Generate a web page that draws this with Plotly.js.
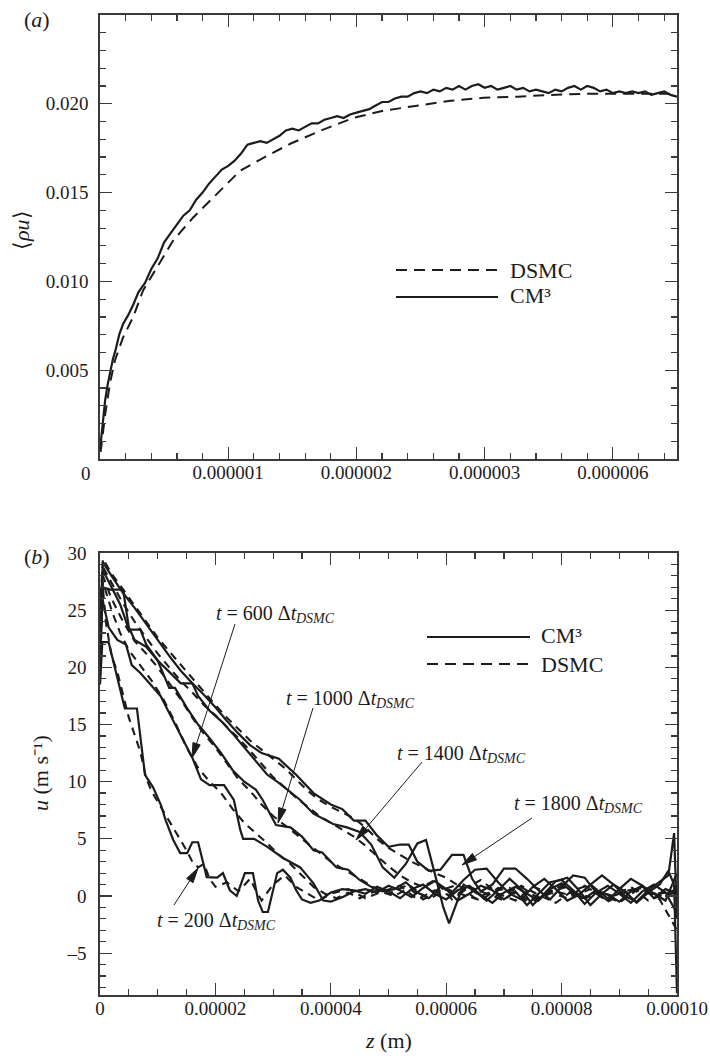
<!DOCTYPE html>
<html><head><meta charset="utf-8">
<script src="https://cdn.plot.ly/plotly-3.0.1.min.js"></script>
<style>html,body{margin:0;padding:0;background:#fff}#chart{width:710px;height:1061px}</style>
</head><body><div id="chart"></div>
<script>
// ---------- Panel (a): <rho u> (x in units of the major tick spacing) ----------
const aTickVals = [1, 2, 3, 4];
const aTickText = ['0.000001', '0.000002', '0.000003', '0.000006'];
const aYTickVals = [0.005, 0.010, 0.015, 0.020];
const aYTickText = ['0.005', '0.010', '0.015', '0.020'];

const aDsmcX = [0.005, 0.04, 0.078, 0.117, 0.18, 0.258, 0.336, 0.445, 0.57, 0.727, 0.914, 1.094, 1.305, 1.484, 1.719, 1.977, 2.21, 2.477, 2.734, 2.992, 3.258, 3.516, 3.773, 4.039, 4.3, 4.5];
const aDsmcY = [0.0004, 0.0025, 0.00427, 0.00556, 0.00685, 0.00798, 0.00949, 0.01079, 0.0123, 0.0136, 0.01494, 0.01624, 0.01708, 0.01775, 0.01848, 0.01921, 0.01961, 0.01989, 0.02017, 0.02034, 0.0204, 0.0205, 0.02056, 0.02056, 0.02056, 0.02056];

const aCmX = [0, 0.02, 0.04, 0.06, 0.08, 0.10, 0.12, 0.15, 0.18, 0.22, 0.26, 0.30, 0.35, 0.40, 0.45, 0.50, 0.55, 0.60, 0.65, 0.70, 0.75, 0.80, 0.85, 0.90, 0.95, 1.00, 1.05, 1.10, 1.15, 1.20, 1.25, 1.30, 1.35, 1.40, 1.45, 1.50, 1.55, 1.60, 1.65, 1.70, 1.75, 1.80, 1.85, 1.90, 1.95, 2.00, 2.05, 2.10, 2.15, 2.20, 2.25, 2.30, 2.35, 2.40, 2.45, 2.50, 2.55, 2.60, 2.65, 2.70, 2.75, 2.80, 2.85, 2.90, 2.95, 3.00, 3.05, 3.10, 3.15, 3.20, 3.25, 3.30, 3.35, 3.40, 3.45, 3.50, 3.55, 3.60, 3.65, 3.70, 3.75, 3.80, 3.85, 3.90, 3.95, 4.00, 4.05, 4.10, 4.15, 4.20, 4.25, 4.30, 4.35, 4.40, 4.45, 4.50];
const aCmY = [0.0005, 0.0018, 0.0033, 0.0042, 0.0050, 0.0056, 0.0061, 0.0070, 0.0076, 0.0081, 0.0087, 0.0094, 0.0099, 0.0107, 0.0113, 0.0122, 0.0127, 0.0132, 0.0137, 0.0140, 0.0146, 0.0150, 0.0155, 0.0159, 0.0163, 0.0165, 0.0168, 0.0172, 0.0177, 0.0178, 0.0179, 0.0178, 0.0180, 0.0182, 0.0185, 0.0186, 0.0185, 0.0187, 0.0189, 0.0189, 0.0191, 0.0192, 0.0193, 0.0192, 0.0194, 0.0195, 0.0196, 0.0197, 0.0199, 0.0201, 0.0201, 0.0203, 0.0204, 0.0204, 0.0206, 0.0207, 0.0206, 0.0208, 0.0207, 0.0209, 0.0208, 0.0210, 0.0208, 0.0210, 0.0211, 0.0209, 0.0210, 0.0208, 0.0209, 0.0210, 0.0208, 0.0209, 0.0207, 0.0208, 0.0207, 0.0206, 0.0208, 0.0207, 0.0209, 0.0210, 0.0208, 0.0210, 0.0209, 0.0207, 0.0208, 0.0206, 0.0207, 0.0206, 0.0207, 0.0206, 0.0207, 0.0205, 0.0206, 0.0207, 0.0205, 0.0204];

// ---------- Panel (b): u(z), z in micrometres ----------
const bTickVals = [0, 20, 40, 60, 80, 100];
const bTickText = ['0', '0.00002', '0.00004', '0.00006', '0.00008', '0.00010'];
const bYTickVals = [-5, 0, 5, 10, 15, 20, 25, 30];
const bYTickText = ['\u20135', '0', '5', '10', '15', '20', '25', '30'];

// t = 200
const z200c = [0, 0.4, 1.5, 3, 4.3, 6.4, 7.8, 9.2, 10.6, 11.4, 12.7, 13.9, 15.1, 16.0, 17.0, 18.5, 20.3, 21.3, 22.5, 23.7, 25.1, 26.5, 27.4, 28.2, 29.1, 30.7, 31.7, 33, 34, 35, 36.5, 38, 40, 42, 44, 46, 48, 50, 52, 54, 56, 58, 60, 62, 64, 66, 68, 70, 72, 74, 76, 78, 80, 82, 84, 86, 88, 90, 92, 94, 96, 98, 99, 100];
const u200c = [18.5, 22.2, 22.2, 19.1, 16.4, 16.4, 10.6, 9.5, 7.9, 6.6, 4.9, 3.75, 3.75, 4.7, 4.7, 1.65, 1.6, 2.0, 0.5, 0, 2.0, 2.0, -0.4, -1.4, -1.4, 2.0, 2.3, 1.6, 0.5, -0.3, -0.6, -0.4, 0.3, 0.6, 0.5, 0.2, 0.8, 0.4, -0.2, 0.6, 1.0, 0.2, -0.3, 0.5, 0.9, 0.1, -0.6, 0.3, 0.8, 0.2, -0.4, 0.6, 1.1, 0.3, -0.2, 0.5, 0.1, -0.5, 0.4, 0.9, 0.2, -0.4, 0.8, 2.0];
const z200d = [0, 0.5, 1, 2, 3, 5, 7, 8, 9, 10.5, 12, 13.5, 15, 16, 17, 18, 19, 20, 22, 24, 26, 27, 28, 30, 32, 34, 36, 38, 40, 43, 46, 49, 52, 55, 58, 61, 64, 67, 70, 73, 76, 79, 82, 85, 88, 91, 94, 97, 100];
const u200d = [20, 27, 24, 21, 19.6, 15.6, 12.6, 10.3, 9.1, 7.8, 6.5, 5.2, 4.0, 3.0, 2.5, 2.8, 1.5, 0.8, 1.2, 0.4, 1.5, 0.5, -0.4, 1.0, 1.8, 0.8, 0.2, -0.4, 0.2, 0.6, -0.2, 0.4, 0.9, -0.3, 0.5, 0.0, 0.7, -0.4, 0.3, 0.8, -0.2, 0.4, 0.0, 0.6, -0.5, 0.3, 0.7, -0.3, -3.0];

// t = 600
const z600c = [0, 0.4, 1.5, 3, 4.5, 5.5, 7, 9, 10.5, 12, 14, 16, 17.5, 19, 21.5, 23.2, 24.3, 24.8, 26.7, 29, 31.8, 34.7, 37, 38.7, 40, 42, 44, 46, 48, 50, 52, 54, 56, 58, 60, 62, 64, 66, 68, 70, 72, 74, 76, 78, 80, 82, 84, 86, 88, 90, 92, 94, 96, 98, 100];
const u600c = [20, 26, 23.5, 22.4, 22.0, 20.2, 19.5, 18.3, 17.5, 16.0, 14.0, 12.1, 10.2, 9.7, 9.7, 8.4, 5.8, 5.0, 5.0, 4.3, 3.3, 2.5, 1.1, -0.4, -0.5, -0.1, 0.4, 0.6, 0.3, 0.9, 0.5, -0.1, 0.7, 1.3, 0.6, -0.4, 0.2, 0.9, 0.5, -0.3, 0.4, -0.8, 0.2, 1.2, 1.4, 0.5, -0.7, 0.3, 0.9, 0.2, -0.6, 0.4, 1.0, 0.3, -1.5];
const z600d = [0, 0.5, 2, 3.5, 5, 7, 9, 11, 13, 15, 17, 19, 21, 23, 25, 27, 29, 31, 33, 35, 37, 39, 41, 43, 45, 48, 51, 54, 57, 60, 63, 66, 69, 72, 75, 78, 81, 84, 87, 90, 93, 96, 100];
const u600d = [22, 27.5, 25, 23, 21.5, 20.2, 18.8, 17.2, 15.2, 13.0, 11.2, 10.0, 9.0, 7.6, 6.4, 5.5, 4.6, 3.6, 2.8, 1.8, 0.8, 0.2, -0.2, 0.3, -0.2, 0.5, 0.0, 0.8, -0.3, 0.6, 0.1, -0.4, 0.7, 0.2, -0.5, 0.4, 0.8, -0.2, 0.3, -0.6, 0.5, 0.1, 0.5];

// t = 1000
const z1000c = [0, 0.5, 1.7, 4, 5, 6, 8, 10, 12, 13, 15, 17, 19, 21, 23, 25, 27, 28.2, 30.5, 33, 35, 37, 38.5, 41, 43, 45, 47, 49, 51, 53, 55, 57, 59, 61, 63, 65, 67, 69, 71, 73, 75, 77, 79, 81, 83, 85, 87, 89, 91, 93, 95, 97, 98.5, 99.5, 100];
const u1000c = [21, 27, 26.8, 26.8, 23.5, 22.4, 21.8, 20.6, 18.2, 18.2, 16.5, 15.0, 13.8, 12.5, 11.0, 10.0, 9.3, 8.4, 6.2, 6.0, 5.2, 4.0, 3.8, 2.5, 2.3, 1.4, 0.8, 0.4, 0.6, 1.2, 0.3, -0.2, 0.8, 0.3, 1.4, 2.3, 2.4, 1.2, 0.2, -0.3, 0.8, 1.5, 0.6, -0.4, 0.1, 1.0, 1.8, 1.0, 0.0, -0.5, 0.5, 1.2, 1.8, 5.5, -2.0];
const z1000d = [0, 0.5, 2, 4, 6, 8, 10, 12, 14, 16, 18, 20, 22, 24, 26, 28, 30, 32, 34, 36, 38, 40, 42, 44, 46, 48, 50, 53, 56, 59, 62, 65, 68, 71, 74, 77, 80, 83, 86, 89, 92, 95, 98, 100];
const u1000d = [23, 28, 26, 24, 22.3, 21.2, 20, 18.6, 17.2, 15.6, 14.2, 13, 11.6, 10.2, 9.2, 8.0, 7.0, 6.2, 5.4, 4.6, 3.8, 3.0, 2.4, 1.8, 1.2, 0.6, 0.2, 0.9, -0.3, 0.5, 1.0, -0.2, 0.4, 0.7, -0.5, 0.2, 0.9, -0.3, 0.4, 0.0, 0.8, -0.4, 0.2, 0.6];

// t = 1400
const z1400c = [0, 0.5, 2, 3.5, 5, 7, 8, 10, 12, 14, 16, 17, 19, 21, 23, 25, 27, 29, 31, 34.7, 37, 40.4, 42.8, 45, 47, 49, 51, 53, 55, 56.5, 58, 59.5, 60.5, 61.5, 63, 65, 67, 69, 71, 73, 75, 77, 79, 81, 83, 85, 87, 89, 91, 93, 95, 97, 98.5, 99.5, 100];
const u1400c = [23, 28.5, 27, 25.5, 23.3, 23.3, 22, 20.6, 19.6, 18.6, 18.6, 17.5, 16.2, 15.3, 14.2, 13.0, 11.8, 10.6, 9.9, 8.4, 7.2, 6.3, 6.0, 5.6, 4.5, 2.5, 1.6, 2.8, 4.6, 4.9, 2.0, -1.0, -2.4, -1.0, 1.0, 0.4, -0.4, 0.5, 1.5, 0.6, -0.8, 0.2, 1.3, 1.6, 0.5, -0.8, 0.2, 1.0, 0.4, -0.6, 0.3, 1.0, 2.2, 1.0, -8.5];
const z1400d = [0, 0.5, 2, 4, 6, 8, 10, 12, 14, 16, 18, 20, 22, 24, 26, 28, 30, 32, 34, 36, 38, 40, 42, 44, 46, 48, 50, 52, 54, 56, 58, 61, 64, 67, 70, 73, 76, 79, 82, 85, 88, 91, 94, 97, 100];
const u1400d = [24, 28.8, 27.4, 25.6, 24, 22.6, 21.2, 20, 18.8, 17.8, 16.7, 15.8, 14.8, 13.8, 12.7, 11.5, 10.4, 9.5, 8.6, 7.8, 7.0, 6.4, 5.8, 5.2, 4.4, 3.5, 2.6, 1.8, 1.2, 0.8, 1.4, -0.3, 0.8, 0.2, -0.4, 0.9, 0.1, -0.6, 0.5, 1.0, -0.2, 0.4, 0.8, 0.0, 0.3];

// t = 1800
const z1800c = [0, 0.5, 2, 4, 6, 8, 10, 12, 14, 16, 18, 20, 22, 24, 26, 28, 31, 34, 37, 40, 42, 44, 46, 48, 50, 52, 53.5, 55, 57, 59, 61, 63, 64.5, 66, 68, 70, 72, 74, 76, 78, 80, 82, 84, 86, 88, 90, 92, 94, 96, 98, 100];
const u1800c = [24, 29.2, 28, 26.5, 25.2, 23.8, 22.3, 21.0, 19.7, 18.6, 17.6, 16.5, 15.3, 14.2, 13.2, 12.5, 12.0, 10.6, 9.0, 8.0, 7.6, 6.6, 6.6, 5.3, 4.3, 4.5, 4.5, 3.0, 2.2, 2.3, 3.6, 3.6, 1.5, 0.4, 1.0, 2.4, 2.4, 1.5, 0.5, -0.3, 0.8, 1.8, 1.6, 0.3, -0.4, 0.6, 1.5, 0.9, -0.2, 0.6, 0.2];
const z1800d = [0, 0.5, 2, 4, 6, 8, 10, 12, 14, 16, 18, 20, 22, 24, 26, 28, 30, 32, 34, 36, 38, 40, 42, 44, 46, 48, 50, 52, 54, 56, 58, 60, 63, 66, 69, 72, 75, 78, 81, 84, 87, 90, 93, 96, 100];
const u1800d = [25, 29.5, 28.2, 26.8, 25.4, 24, 22.6, 21.4, 20.2, 19, 17.8, 16.7, 15.6, 14.6, 13.6, 12.8, 12, 11.2, 10.2, 9.2, 8.4, 7.8, 7.3, 6.8, 6.0, 5.0, 4.2, 3.6, 3.0, 2.5, 2.0, 1.6, 0.6, 1.4, 0.2, -0.4, 0.8, 0.3, -0.2, 0.9, 0.1, -0.5, 0.6, 0.2, 0.4];

// label times for the arrows in panel (b)
const bLabelTimes = ['600', '1000', '1400', '1800', '200'];

// ---------- build ----------
const INK = '#1c1c1c';
const AX = '#3a3a3a';
const FONT = "'Liberation Serif', 'Times New Roman', serif";
const DASH = '11px,7px';
const DASHB = '8px,6px';
const W = 710, H = 1061, ML = 100, MR = 33, MT = 15, MB = 66;
const PW = W - ML - MR, PH = H - MT - MB;
const px = x => (x - ML) / PW;
const py = y => 1 - (y - MT) / PH;

function line(x, y, xa, ya, dash, w) {
  return {x: x, y: y, xaxis: xa, yaxis: ya, type: 'scatter', mode: 'lines', hoverinfo: 'skip',
          line: {color: INK, width: w, dash: dash, shape: 'linear'}, showlegend: false};
}
const traces = [
  line(aDsmcX, aDsmcY, 'x', 'y', DASH, 2),
  line(aCmX, aCmY, 'x', 'y', 'solid', 2.2),
  line(z200d, u200d, 'x2', 'y2', DASHB, 2.1),
  line(z600d, u600d, 'x2', 'y2', DASHB, 2.1),
  line(z1000d, u1000d, 'x2', 'y2', DASHB, 2.1),
  line(z1400d, u1400d, 'x2', 'y2', DASHB, 2.1),
  line(z1800d, u1800d, 'x2', 'y2', DASHB, 2.1),
  line(z200c, u200c, 'x2', 'y2', 'solid', 2.2),
  line(z600c, u600c, 'x2', 'y2', 'solid', 2.2),
  line(z1000c, u1000c, 'x2', 'y2', 'solid', 2.2),
  line(z1400c, u1400c, 'x2', 'y2', 'solid', 2.2),
  line(z1800c, u1800c, 'x2', 'y2', 'solid', 2.2)
];

const tickFont = {family: FONT, size: 19, color: INK};
function axisBase(extra) {
  return Object.assign({
    showline: true, linecolor: AX, linewidth: 1.6, mirror: 'ticks',
    ticks: 'inside', ticklen: 12, tickwidth: 1.2, tickcolor: AX,
    showgrid: false, zeroline: false, tickfont: tickFont, fixedrange: true
  }, extra);
}

const layout = {
  width: W, height: H,
  margin: {l: ML, r: MR, t: MT, b: MB},
  paper_bgcolor: '#fff', plot_bgcolor: '#fff',
  showlegend: false,
  font: {family: FONT, color: INK},
  xaxis: axisBase({domain: [0, 1], anchor: 'y', range: [0, 4.5], tickmode: 'array', tickvals: aTickVals, ticktext: aTickText,
    ticklabelstandoff: -4, minor: {dtick: 0.2, tick0: 0, ticks: 'inside', ticklen: 6, tickcolor: AX, tickwidth: 1.2}}),
  yaxis: axisBase({domain: [py(459), 1], anchor: 'x', range: [0, 0.025], tickmode: 'array', tickvals: aYTickVals, ticktext: aYTickText,
    ticklabelstandoff: 6, minor: {dtick: 0.001, tick0: 0, ticks: 'inside', ticklen: 6, tickcolor: AX, tickwidth: 1.2}}),
  xaxis2: axisBase({domain: [0, 1], anchor: 'y2', range: [0, 100], tickmode: 'array', tickvals: bTickVals, ticktext: bTickText,
    ticklabelstandoff: -4, minor: {dtick: 5, tick0: 0, ticks: 'inside', ticklen: 6, tickcolor: AX, tickwidth: 1.2}}),
  yaxis2: axisBase({domain: [0, py(553)], anchor: 'x2', range: [-8.66, 30], tickmode: 'array', tickvals: bYTickVals, ticktext: bYTickText,
    ticklabelstandoff: 8, minor: {dtick: 1, tick0: 0, ticks: 'inside', ticklen: 6, tickcolor: AX, tickwidth: 1.2}}),
  shapes: [
    {type: 'line', xref: 'paper', yref: 'paper', x0: px(396), x1: px(498), y0: py(270), y1: py(270), line: {color: INK, width: 2, dash: DASH}},
    {type: 'line', xref: 'paper', yref: 'paper', x0: px(396), x1: px(498), y0: py(297), y1: py(297), line: {color: INK, width: 2}},
    {type: 'line', xref: 'paper', yref: 'paper', x0: px(427), x1: px(530), y0: py(637), y1: py(637), line: {color: INK, width: 2}},
    {type: 'line', xref: 'paper', yref: 'paper', x0: px(427), x1: px(530), y0: py(664), y1: py(664), line: {color: INK, width: 2, dash: DASH}}
  ],
  annotations: []
};

function txt(x, y, text, size, opts) {
  return Object.assign({xref: 'paper', yref: 'paper', x: px(x), y: py(y), text: text, showarrow: false,
    font: {family: FONT, size: size, color: INK}, xanchor: 'center', yanchor: 'middle'}, opts || {});
}
const A = layout.annotations;
A.push(txt(37, 20, '(<i>a</i>)', 22));
A.push(txt(37, 556, '(<i>b</i>)', 22));
A.push(txt(86, 473, '0', 19));
A.push(txt(22, 230, '\u27e8<i>\u03c1u</i>\u27e9', 22, {textangle: -90}));
A.push(txt(40, 773, '<i>u</i> (m s\u207b\u00b9)', 22, {textangle: -90}));
A.push(txt(388, 1040, '<i>z</i> (m)', 22));
A.push(txt(508, 270, 'DSMC', 22, {xanchor: 'left'}));
A.push(txt(508, 295, 'CM\u00b3', 22, {xanchor: 'left'}));
A.push(txt(539, 635, 'CM\u00b3', 22, {xanchor: 'left'}));
A.push(txt(539, 664, 'DSMC', 22, {xanchor: 'left'}));

// label positions (pixel) and arrows (thin line + filled head, drawn as shapes)
const labelGeom = [
  {end: 337, ly: 613, tx: 235, ty: 624, hx: 192, hy: 758},
  {end: 417, ly: 698, tx: 313, ty: 708, hx: 278, hy: 823},
  {end: 528, ly: 753, tx: 422, ty: 762, hx: 356, hy: 840},
  {end: 645, ly: 803, tx: 532, ty: 818, hx: 462, hy: 865},
  {end: 278, ly: 920, tx: 174, ty: 905, hx: 198, hy: 868}
];
labelGeom.forEach((L, i) => {
  const split = L.end - 38;
  A.push(txt(split, L.ly, '<i>t</i> = ' + bLabelTimes[i] + ' \u0394<i>t</i>', 20, {xanchor: 'right'}));
  A.push(txt(split - 6, L.ly + 5, '<i>DSMC</i>', 14, {xanchor: 'left'}));
  const dx = L.hx - L.tx, dy = L.hy - L.ty, len = Math.hypot(dx, dy);
  const ux = dx / len, uy = dy / len, HL = 15, HW = 3.8;
  const bxp = L.hx - ux * HL, byp = L.hy - uy * HL;
  layout.shapes.push({type: 'line', xref: 'paper', yref: 'paper', x0: px(L.tx), y0: py(L.ty), x1: px(bxp), y1: py(byp),
    line: {color: INK, width: 1}});
  const p1 = [px(L.hx), py(L.hy)], p2 = [px(bxp - uy * HW), py(byp + ux * HW)], p3 = [px(bxp + uy * HW), py(byp - ux * HW)];
  layout.shapes.push({type: 'path', xref: 'paper', yref: 'paper',
    path: 'M' + p1.join(',') + ' L' + p2.join(',') + ' L' + p3.join(',') + ' Z',
    fillcolor: INK, line: {color: INK, width: 1}});
});

Plotly.newPlot('chart', traces, layout, {displayModeBar: false, staticPlot: true});
</script>
</body></html>
